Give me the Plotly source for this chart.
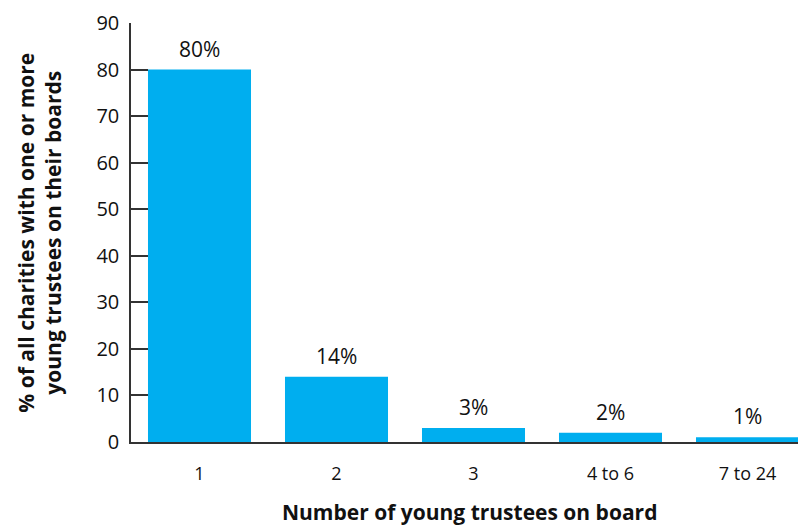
import plotly.graph_objects as go

categories = ["1", "2", "3", "4 to 6", "7 to 24"]
values = [80, 14, 3, 2, 1]
labels = ["80%", "14%", "3%", "2%", "1%"]
y_ticks = [0, 10, 20, 30, 40, 50, 60, 70, 80, 90]

FONT = "Open Sans"
BAR = "#00AEEF"
AXIS = "#333333"
TXT = "#111111"

fig = go.Figure()
fig.add_trace(go.Bar(x=list(range(len(categories))), y=values, marker=dict(color=BAR, line=dict(width=0)),
                     width=0.752, hoverinfo="skip"))

for i, (v, lab) in enumerate(zip(values, labels)):
    fig.add_annotation(x=i, y=v, text=lab, showarrow=False, xanchor="center", yanchor="bottom",
                       yshift=5, font=dict(family=FONT, size=21, color=TXT))

fig.add_annotation(xref="paper", yref="paper", x=0.502, y=-0.166, text="<b>Number of young trustees on board</b>",
                   showarrow=False, xanchor="center", yanchor="middle",
                   font=dict(family=FONT, size=21, color=TXT))

fig.add_annotation(xref="paper", yref="paper", x=-0.136, y=0.5,
                   text="<b>% of all charities with one or more<br>young trustees on their boards</b>",
                   showarrow=False, xanchor="center", yanchor="middle", textangle=-90,
                   font=dict(family=FONT, size=21, color=TXT))

fig.update_layout(
    width=798, height=518,
    margin=dict(l=123, r=0, t=15, b=84),
    paper_bgcolor="white", plot_bgcolor="white",
    showlegend=False,
)
fig.update_xaxes(range=[-0.5, 4.427], tickmode="array", tickvals=list(range(len(categories))),
                 ticktext=categories, showgrid=False, zeroline=False, showline=True,
                 linecolor=AXIS, linewidth=1.5, ticks="", ticklabelstandoff=15,
                 tickfont=dict(family=FONT, size=18, color=TXT))
fig.update_yaxes(range=[0, 90], tickmode="array", tickvals=y_ticks, showgrid=False, zeroline=False,
                 showline=True, linecolor=AXIS, linewidth=1.5, ticks="inside", ticklen=17,
                 tickcolor=AXIS, tickwidth=1.5, ticklabelstandoff=6,
                 tickfont=dict(family=FONT, size=20, color=TXT))

fig.write_html("out.html")
